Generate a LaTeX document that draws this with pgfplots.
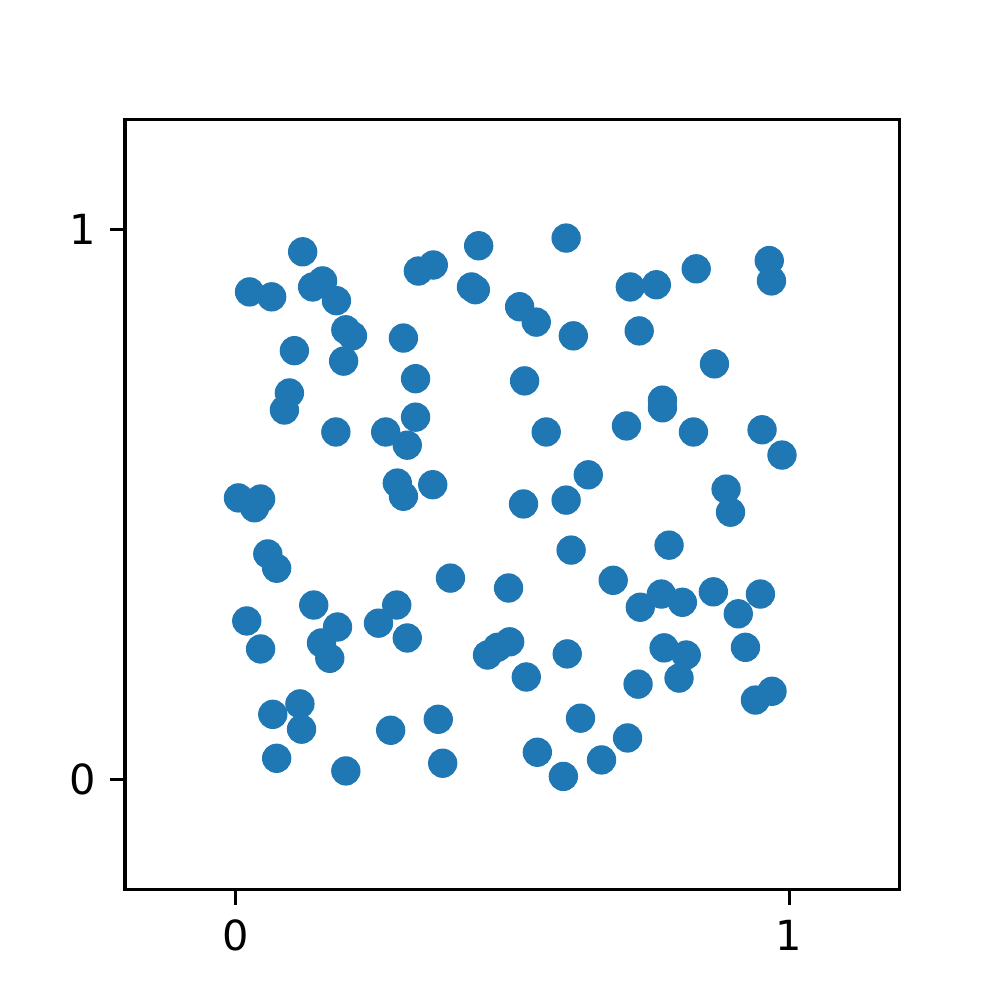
\documentclass[border=0pt]{standalone}
\usepackage{fontspec}
\setmainfont{DejaVu Sans}
\usepackage{pgfplots}
\pgfplotsset{compat=1.18}
\definecolor{mplblue}{HTML}{1F77B4}
\begin{document}
\begin{tikzpicture}
\path[use as bounding box] (-45.17pt,-40.1pt) rectangle (316.18pt,321.25pt);
\begin{axis}[
  at={(0,0)}, anchor=south west,
  scale only axis,
  width=280pt, height=277.9pt,
  xmin=-0.2, xmax=1.2, ymin=-0.2, ymax=1.2,
  xtick={0,1}, ytick={0,1},
  tick pos=left,
  tick align=outside,
  major tick length=5.6pt,
  every tick/.style={black, line width=1.1pt},
  axis line style={line width=1.1pt},
  /pgf/number format/assume math mode=true,
  tick label style={font=\fontsize{15}{18}\selectfont},
  xticklabel style={yshift=-2pt},
  yticklabel style={xshift=-1.5pt},
]
\addplot[only marks, mark=*, color=mplblue, mark size=5.1pt, mark options={draw=none, fill=mplblue}] coordinates {
(0.025,0.887) (0.065,0.878) (0.121,0.960) (0.139,0.896) (0.157,0.907)
(0.182,0.871) (0.199,0.818) (0.211,0.807) (0.195,0.761) (0.106,0.780)
(0.097,0.703) (0.088,0.672) (0.181,0.632) (0.303,0.803) (0.330,0.925)
(0.357,0.936) (0.439,0.971) (0.426,0.896) (0.433,0.891) (0.513,0.860)
(0.543,0.832) (0.597,0.985) (0.610,0.807) (0.713,0.896) (0.760,0.900)
(0.832,0.929) (0.729,0.816) (0.865,0.756) (0.964,0.944) (0.968,0.907)
(0.325,0.729) (0.325,0.659) (0.271,0.632) (0.310,0.608) (0.522,0.725)
(0.561,0.632) (0.706,0.643) (0.771,0.690) (0.771,0.676) (0.827,0.632)
(0.951,0.636) (0.987,0.590) (0.637,0.554) (0.005,0.512) (0.045,0.510)
(0.034,0.494) (0.292,0.539) (0.303,0.515) (0.356,0.536) (0.520,0.501)
(0.597,0.508) (0.886,0.528) (0.894,0.486) (0.058,0.410) (0.074,0.384)
(0.606,0.417) (0.783,0.426) (0.388,0.366) (0.493,0.348) (0.682,0.362)
(0.731,0.313) (0.769,0.337) (0.807,0.322) (0.863,0.341) (0.948,0.337)
(0.908,0.301) (0.020,0.288) (0.045,0.237) (0.141,0.317) (0.184,0.277)
(0.155,0.248) (0.170,0.220) (0.258,0.284) (0.291,0.317) (0.310,0.257)
(0.455,0.226) (0.473,0.240) (0.495,0.250) (0.525,0.186) (0.599,0.228)
(0.774,0.239) (0.814,0.226) (0.921,0.240) (0.727,0.173) (0.801,0.184)
(0.939,0.144) (0.969,0.160) (0.067,0.118) (0.116,0.137) (0.119,0.091)
(0.280,0.089) (0.366,0.109) (0.074,0.038) (0.199,0.015) (0.374,0.029)
(0.545,0.049) (0.592,0.005) (0.623,0.111) (0.661,0.035) (0.708,0.075)
};
\end{axis}
\end{tikzpicture}
\end{document}
